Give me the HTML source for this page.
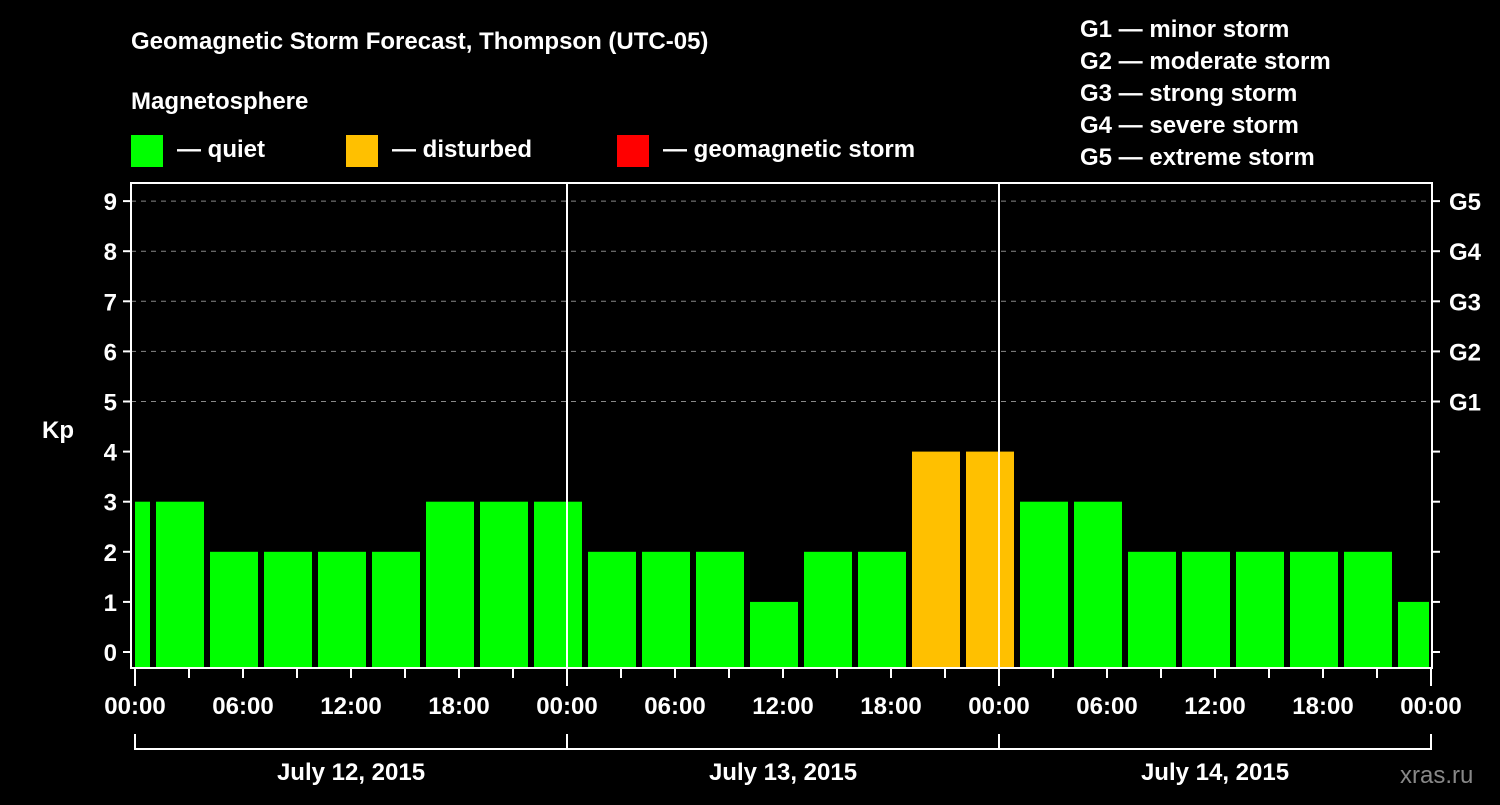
<!DOCTYPE html>
<html><head><meta charset="utf-8"><style>
body{margin:0;background:#000;width:1500px;height:800px;overflow:hidden}
svg text{font-family:"Liberation Sans",sans-serif;font-weight:bold;fill:#fff}
</style></head><body>
<svg id="c" width="1500" height="800" xmlns="http://www.w3.org/2000/svg">
<text x="131" y="49" font-size="24">Geomagnetic Storm Forecast, Thompson (UTC-05)</text>
<text x="131" y="109" font-size="24">Magnetosphere</text>
<g><rect x="131" y="135" width="32" height="32" fill="#00ff00"/><text x="177" y="157" font-size="24">— quiet</text></g>
<g><rect x="346" y="135" width="32" height="32" fill="#ffc000"/><text x="392" y="157" font-size="24">— disturbed</text></g>
<g><rect x="617" y="135" width="32" height="32" fill="#ff0000"/><text x="663" y="157" font-size="24">— geomagnetic storm</text></g>
<g font-size="24">
<text x="1080" y="37">G1 — minor storm</text><text x="1080" y="69">G2 — moderate storm</text><text x="1080" y="101">G3 — strong storm</text><text x="1080" y="133">G4 — severe storm</text><text x="1080" y="165">G5 — extreme storm</text></g>
<text x="42" y="438" font-size="24">Kp</text>
<text x="1400" y="783" font-size="24" fill="#888" style="fill:#888;font-weight:normal">xras.ru</text>
<g id="plot"></g>
</svg>
<script>
const kpValues=[3,3,2,2,2,2,3,3,3,2,2,2,1,2,2,4,4,3,3,2,2,2,2,2,1];
const blockStartHours=[-2,1,4,7,10,13,16,19,22,25,28,31,34,37,40,43,46,49,52,55,58,61,64,67,70];
const xTickLabels=["00:00","06:00","12:00","18:00","00:00","06:00","12:00","18:00","00:00","06:00","12:00","18:00","00:00"];
const dayLabels=["July 12, 2015","July 13, 2015","July 14, 2015"];
const gLabels=["G1","G2","G3","G4","G5"];
const NS="http://www.w3.org/2000/svg";
const X0=135,PXH=18,L=131,R=1432,T=183,B=668;
const x=h=>X0+h*PXH;
const y=v=>652-v*50.1;
const g=document.getElementById('plot');
function mk(t,a,p){const e=document.createElementNS(NS,t);for(const k in a)e.setAttribute(k,a[k]);(p||g).appendChild(e);return e;}
// grid
for(let v=5;v<=9;v++){const l=mk('line',{x1:L,x2:R,y1:y(v),y2:y(v),stroke:'#888','stroke-dasharray':'5,5','stroke-width':1});

}
// bars
kpValues.forEach((v,i)=>{let a=x(blockStartHours[i])+3,b=x(blockStartHours[i]+3)-3;a=Math.max(a,X0);b=Math.min(b,x(72)-2);
const r=mk('rect',{x:a,y:y(v),width:b-a,height:B-y(v),fill:v>=5?'#ff0000':(v>=4?'#ffc000':'#00ff00')});

});
// day separators
[24,48].forEach(h=>{const l=mk('line',{x1:x(h),x2:x(h),y1:T,y2:B,stroke:'#fff','stroke-width':2});

});
// frame
const f=mk('rect',{x:L,y:T,width:R-L,height:B-T,fill:'none',stroke:'#fff','stroke-width':2});


// y ticks
for(let v=0;v<=9;v++){mk('line',{x1:L-8,x2:L,y1:y(v),y2:y(v),stroke:'#fff','stroke-width':2});mk('line',{x1:R,x2:R+8,y1:y(v),y2:y(v),stroke:'#fff','stroke-width':2});
const t=mk('text',{x:L-14,y:y(v)+9,'font-size':24,'text-anchor':'end'});t.textContent=v;

}
gLabels.forEach((s,i)=>{const t=mk('text',{x:1449,y:y(5+i)+9,'font-size':24});t.textContent=s;

});
// x ticks
for(let h=0;h<=72;h+=3){mk('line',{x1:x(h),x2:x(h),y1:B,y2:h%24==0?686:678,stroke:'#fff','stroke-width':2});}
xTickLabels.forEach((s,i)=>{const t=mk('text',{x:x(i*6),y:714,'font-size':24,'text-anchor':'middle'});t.textContent=s;

});
mk('line',{x1:x(0),x2:x(72),y1:749,y2:749,stroke:'#fff','stroke-width':2});
for(let d=0;d<=3;d++)mk('line',{x1:x(d*24),x2:x(d*24),y1:734,y2:750,stroke:'#fff','stroke-width':2});
dayLabels.forEach((s,i)=>{const t=mk('text',{x:x(i*24+12),y:780,'font-size':24,'text-anchor':'middle'});t.textContent=s;

});
</script>
</body></html>
